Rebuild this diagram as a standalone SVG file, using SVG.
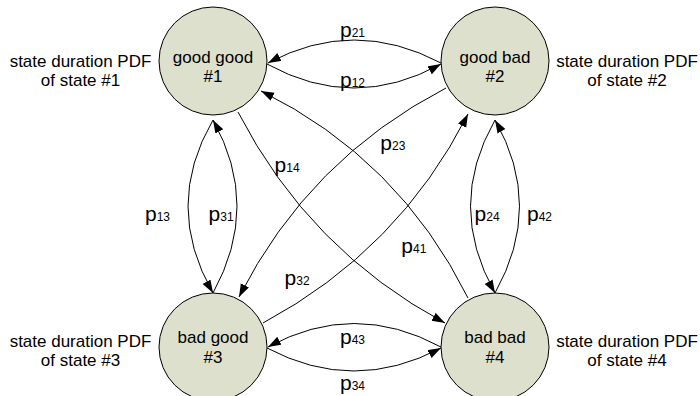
<svg xmlns="http://www.w3.org/2000/svg" width="700" height="396" viewBox="0 0 700 396">
<defs>
<marker id="ah" markerUnits="userSpaceOnUse" markerWidth="14" markerHeight="10" refX="13" refY="4.5" orient="auto">
<polygon points="0,0 13,4.5 0,9" fill="#000"/>
</marker>
<style>
.node{fill:#dde0cc;stroke:#000;stroke-width:1}
.nt{font-family:"Liberation Sans",Arial,sans-serif;font-size:17px;fill:#000;text-anchor:middle}
.side{font-family:"Liberation Sans",Arial,sans-serif;font-size:17px;fill:#000;text-anchor:middle}
.lbl{font-family:"Liberation Sans",Arial,sans-serif;font-size:21px;fill:#000}
.sub{font-size:12px}
.edge{fill:none;stroke:#000;stroke-width:1;marker-end:url(#ah)}
</style>
</defs>
<rect width="700" height="396" fill="#fff"/>
<g id="connectors">
<path class="edge" d="M441,63 Q354,17 268,63"/>
<path class="edge" d="M267,64 Q354,112 441,64"/>
<path class="edge" d="M441,347 Q354,300 268,347"/>
<path class="edge" d="M267,348 Q354,394 441,348"/>
<path class="edge" d="M213,120 Q163,206 213,293"/>
<path class="edge" d="M213,293 Q261,206 213,120"/>
<path class="edge" d="M495,120 Q446,206 495,293"/>
<path class="edge" d="M495,293 Q544,206 495,120"/>
<path class="edge" d="M238,112 Q309,250 445,323"/>
<path class="edge" d="M263,323 Q399,250 468,114"/>
<path class="edge" d="M446,88 Q309,159 239,297"/>
<path class="edge" d="M468,298 Q399,159 261,91"/>
</g>
<g id="node1"><circle class="node" cx="213" cy="61" r="54"/><text class="nt" x="213" y="63">good good</text><text class="nt" x="213" y="82">#1</text></g>
<g id="node2"><circle class="node" cx="495" cy="61" r="54"/><text class="nt" x="495" y="63">good bad</text><text class="nt" x="495" y="82">#2</text></g>
<g id="node3"><circle class="node" cx="213" cy="347" r="54"/><text class="nt" x="213" y="343">bad good</text><text class="nt" x="213" y="363">#3</text></g>
<g id="node4"><circle class="node" cx="495" cy="347" r="54"/><text class="nt" x="495" y="343">bad bad</text><text class="nt" x="495" y="363">#4</text></g>
<g id="side-labels">
<text class="side" x="80.5" y="67">state duration PDF</text><text class="side" x="80.5" y="86">of state #1</text>
<text class="side" x="627" y="67">state duration PDF</text><text class="side" x="627" y="86">of state #2</text>
<text class="side" x="80.5" y="347">state duration PDF</text><text class="side" x="80.5" y="366">of state #3</text>
<text class="side" x="627" y="347">state duration PDF</text><text class="side" x="627" y="366">of state #4</text>
</g>
<g id="edge-labels">
<text class="lbl" x="340" y="36.5">p<tspan class="sub">21</tspan></text>
<text class="lbl" x="340" y="87">p<tspan class="sub">12</tspan></text>
<text class="lbl" x="340" y="343.5">p<tspan class="sub">43</tspan></text>
<text class="lbl" x="340" y="390">p<tspan class="sub">34</tspan></text>
<text class="lbl" x="145" y="220.7">p<tspan class="sub">13</tspan></text>
<text class="lbl" x="208.6" y="220.7">p<tspan class="sub">31</tspan></text>
<text class="lbl" x="474.6" y="220.7">p<tspan class="sub">24</tspan></text>
<text class="lbl" x="527" y="220.7">p<tspan class="sub">42</tspan></text>
<text class="lbl" x="274.6" y="171.7">p<tspan class="sub">14</tspan></text>
<text class="lbl" x="380.3" y="150">p<tspan class="sub">23</tspan></text>
<text class="lbl" x="401.3" y="253">p<tspan class="sub">41</tspan></text>
<text class="lbl" x="284.6" y="285">p<tspan class="sub">32</tspan></text>
</g>
</svg>
